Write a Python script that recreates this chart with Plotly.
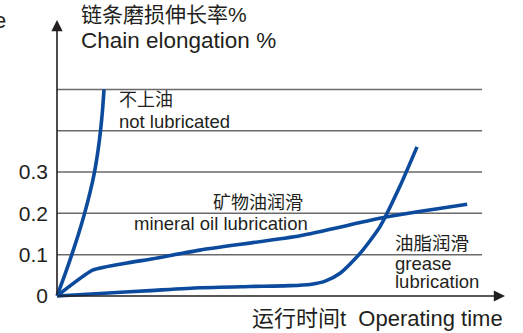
import plotly.graph_objects as go

# Chain elongation (%) against operating time (arbitrary time units)
t_not_lubricated = [0, 1.79, 3.48, 5.06, 6.49, 7.76, 8.82, 9.62, 10.24, 10.71, 11.06]
e_not_lubricated = [0, 0.05, 0.10, 0.15, 0.20, 0.25, 0.30, 0.35, 0.40, 0.45, 0.50]

t_mineral_oil = [0, 8.5, 16.5, 22.6, 33.6, 57.2, 77.4, 96.5]
e_mineral_oil = [0, 0.063, 0.080, 0.090, 0.111, 0.146, 0.191, 0.222]

t_grease = [0, 10.1, 21.9, 33.6, 45.4, 54.8, 59.5, 63.1, 66.6, 71.3, 76.0, 80.7, 84.7]
e_grease = [0, 0.006, 0.013, 0.020, 0.023, 0.025, 0.028, 0.036, 0.055, 0.103, 0.168, 0.266, 0.361]

grid_levels = [0.1, 0.2, 0.3, 0.4, 0.5]
tick_values = [0, 0.1, 0.2, 0.3]
tick_labels = ["0", "0.1", "0.2", "0.3"]

BLUE = "#0b4a9c"
INK = "#231f20"
FONT = "Liberation Sans, Arial, Noto Sans CJK SC"

fig = go.Figure()
for t, e, smooth in [(t_not_lubricated, e_not_lubricated, 0.8),
                     (t_mineral_oil, e_mineral_oil, 0.5),
                     (t_grease, e_grease, 0.6)]:
    fig.add_trace(go.Scatter(x=t, y=e, mode="lines",
                             line=dict(color=BLUE, width=3.6, shape="spline", smoothing=smooth),
                             showlegend=False, hoverinfo="skip"))

# horizontal reference lines, stopping short of the time arrow
for g in grid_levels:
    fig.add_shape(type="line", xref="x", yref="y", x0=0, x1=100, y0=g, y1=g,
                  line=dict(color="#6a6a6a", width=1.5), layer="below")

X_END = 105.4
Y_END = 0.668

annotations = [
    # axes with arrowheads
    dict(x=X_END, y=0, ax=0, ay=0, axref="x", ayref="y", xref="x", yref="y",
         showarrow=True, arrowhead=2, arrowsize=1.4, arrowwidth=1.6, arrowcolor=INK, text=""),
    dict(x=0, y=Y_END, ax=0, ay=0, axref="x", ayref="y", xref="x", yref="y",
         showarrow=True, arrowhead=2, arrowsize=1.4, arrowwidth=1.6, arrowcolor=INK, text=""),
]

def label(text, x, y, size, anchor="left", ref="data"):
    r = ("x", "y") if ref == "data" else ("paper", "paper")
    return dict(x=x, y=y, xref=r[0], yref=r[1], text=text, showarrow=False,
                xanchor=anchor, yanchor="middle",
                font=dict(family=FONT, size=size, color=INK))

annotations += [
    label("链条磨损伸长率%", 0.058, 1.018, 21, ref="paper"),
    label("Chain elongation %", 5.2, 0.618, 22.5),
    label("不上油", 14.1, 0.475, 18),
    label("not lubricated", 14.1, 0.422, 18.5),
    label("矿物油润滑", 58.4, 0.225, 18, anchor="right"),
    label("mineral oil lubrication", 17.6, 0.175, 18.5),
    label("油脂润滑", 79.1, 0.128, 18.5),
    label("grease", 79.1, 0.078, 18.5),
    label("lubrication", 79.1, 0.034, 18.5),
    label("运行时间t  Operating time", 1.0, -0.066, 22, anchor="right", ref="paper"),
    dict(x=0, y=1.0, xref="paper", yref="paper", text="e", showarrow=False,
         xanchor="right", yanchor="middle", xshift=-45,
         font=dict(family=FONT, size=22, color=INK)),
]

fig.update_layout(
    width=523, height=333,
    margin=dict(l=53, r=18, t=20, b=33),
    paper_bgcolor="white", plot_bgcolor="white",
    annotations=annotations,
    xaxis=dict(range=[-0.94, X_END], showgrid=False, zeroline=False,
               showticklabels=False, showline=False, ticks=""),
    yaxis=dict(range=[-0.0097, Y_END], showgrid=False, zeroline=False,
               showline=False, ticks="", tickvals=tick_values, ticktext=tick_labels,
               ticklabelstandoff=4,
               tickfont=dict(family=FONT, size=21, color=INK)),
)

fig.write_html("out.html")
